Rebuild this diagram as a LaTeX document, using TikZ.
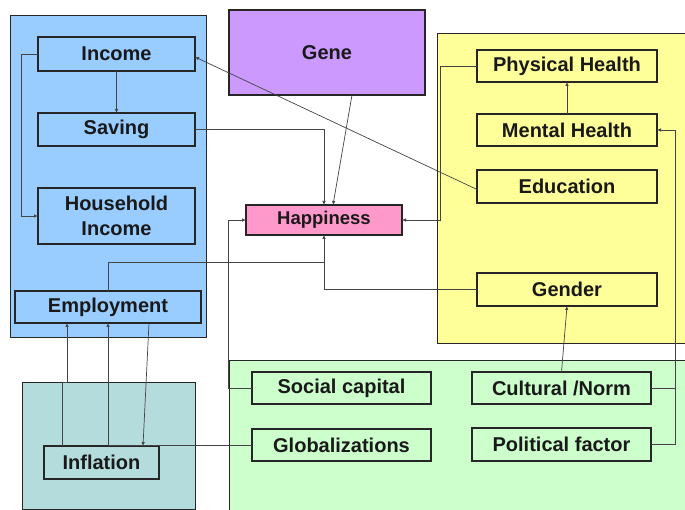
\documentclass[tikz,border=0pt]{standalone}
\usepackage{fontspec}
\setmainfont{Liberation Sans}
\usetikzlibrary{arrows.meta,calc}
\definecolor{blueR}{HTML}{99CCFF}
\definecolor{geneC}{HTML}{CC99FF}
\definecolor{yellowR}{HTML}{FFFF99}
\definecolor{greenR}{HTML}{CCFFCC}
\definecolor{tealR}{HTML}{B4DCDC}
\definecolor{happyC}{HTML}{FF99CC}
\definecolor{lineC}{HTML}{444444}
\begin{document}
\begin{tikzpicture}[x=1pt,y=-1pt,
  region/.style={draw=black!85,line width=0.9pt},
  box/.style={draw=black!85,line width=1.1pt,inner sep=0pt,outer sep=0pt,
    font=\fontsize{20}{25}\selectfont\bfseries,text=black!90,align=center},
  conn/.style={draw=lineC,line width=0.7pt},
  arr/.style={conn,-{Latex[length=4pt,width=3.5pt]}}]
\useasboundingbox (0,0) rectangle (685,510);
\fill[white] (0,0) rectangle (685,510);
% regions
\draw[region,fill=blueR] (10,15) rectangle (206,337);
\draw[region,fill=yellowR] (437,33) rectangle (690,343);
\draw[region,fill=greenR] (229,360) rectangle (690,515);
\draw[region,fill=tealR] (22,382) rectangle (195,509);
% coordinates for connector bends
\coordinate (rj) at (675,0);
\coordinate (hj) at (324,262);
\coordinate (k1) at (67,382);
% nodes
\node[box,fill=geneC,minimum width=196pt,minimum height=85pt] (gene) at (327,52.5) {Gene};
\node[box,fill=blueR,minimum width=157pt,minimum height=34pt] (income) at (116.5,54) {Income};
\node[box,fill=blueR,minimum width=157pt,minimum height=33pt] (saving) at (116.5,129.5) {Saving};
\node[box,fill=blueR,minimum width=157pt,minimum height=56pt] (house) at (116.5,216) {Household\\Income};
\node[box,fill=happyC,minimum width=156pt,minimum height=30pt,font=\fontsize{18.5}{22}\selectfont\bfseries] (happy) at (324,220) {Happiness};
\node[box,fill=blueR,minimum width=186pt,minimum height=32pt] (employ) at (108,307) {Employment};
\node[box,fill=tealR,minimum width=115pt,minimum height=33pt] (infl) at (101.5,462.5) {Inflation};
\node[box,fill=greenR,minimum width=179pt,minimum height=32pt] (social) at (341.5,388) {Social capital};
\node[box,fill=greenR,minimum width=179pt,minimum height=32pt] (glob) at (341.5,445) {Globalizations};
\node[box,fill=yellowR,minimum width=180pt,minimum height=32pt] (phys) at (567,66) {Physical Health};
\node[box,fill=yellowR,minimum width=180pt,minimum height=32pt] (mental) at (567,130) {Mental Health};
\node[box,fill=yellowR,minimum width=180pt,minimum height=33pt] (edu) at (567,186.5) {Education};
\node[box,fill=yellowR,minimum width=180pt,minimum height=33pt] (gender) at (567,289.5) {Gender};
\node[box,fill=greenR,minimum width=179pt,minimum height=32pt] (cult) at (561.5,388) {Cultural /Norm};
\node[box,fill=greenR,minimum width=179pt,minimum height=33pt] (polit) at (561.5,444.5) {Political factor};
% connectors
\draw[arr] (income.west) -- ++(-17,0) |- (house.west);
\draw[arr] (income.south) -- (saving.north);
\draw[arr] (saving.east) -| (happy.north);
\draw[arr] ([xshift=25pt]gene.south) -- ([xshift=9pt]happy.north);
\draw[arr] ([yshift=-3pt]edu.west) -- ([yshift=-3pt]income.east);
\draw[arr] (phys.west) -- ++(-37,0) |- (happy.east);
\draw[arr] (mental.north) -- (phys.south);
\draw[arr] (polit.east) -| (rj |- mental.east) -- (mental.east);
\draw[conn] (cult.east) -- (cult.east -| rj);
\draw[arr] (cult.north) -- (gender.south);
\draw[arr] (gender.west) -| (happy.south);
\draw[conn] (employ.north) |- (hj);
\draw[arr] (social.west) -- ++(-24,0) |- (happy.west);
\draw[arr] ([xshift=-39.5pt]infl.north) |- (k1) -- (k1 |- employ.south);
\draw[arr] (glob.west) -| (employ.south);
\draw[arr] ([xshift=41pt]employ.south) -- ([xshift=41.5pt]infl.north);
\end{tikzpicture}
\end{document}
